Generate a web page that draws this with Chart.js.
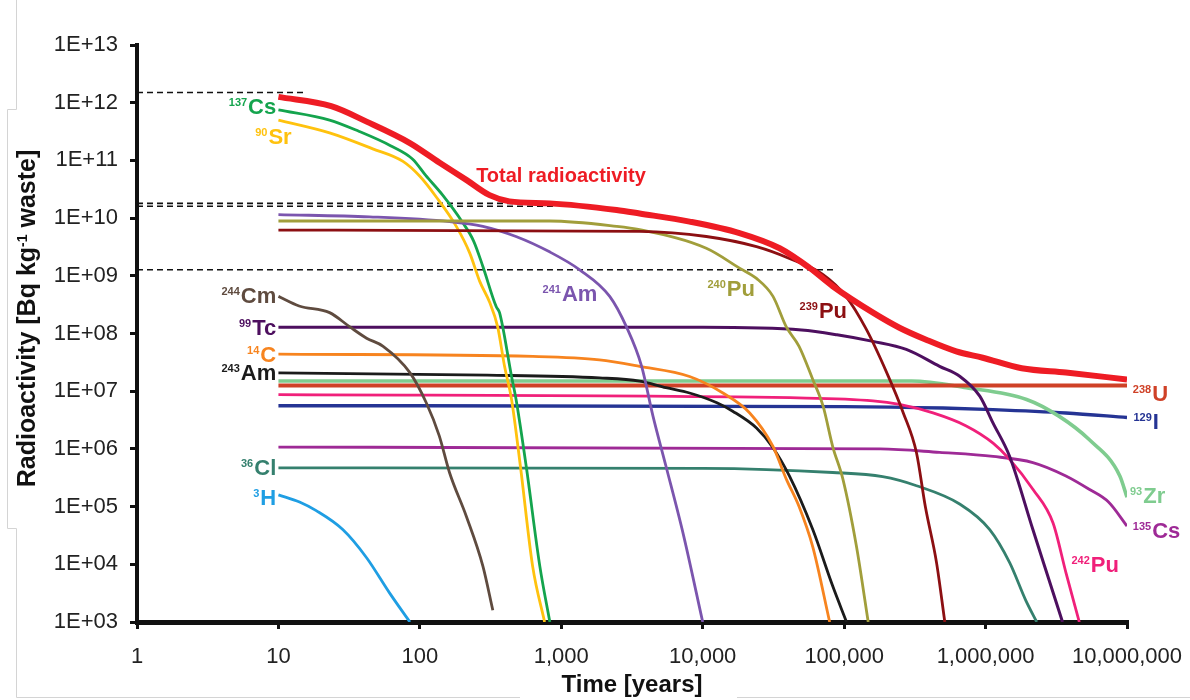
<!DOCTYPE html>
<html>
<head>
<meta charset="utf-8">
<script src="https://cdn.jsdelivr.net/npm/chart.js@4.4.0/dist/chart.umd.min.js"></script>
<style>
    html, body { margin: 0; padding: 0; background: #fff; }
    #wrap { width: 1190px; height: 700px; }
</style>
</head>
<body>
<div id="wrap"><canvas id="chart" width="1190" height="700"></canvas></div>
<script>

var FONT = '"Liberation Sans", Arial, sans-serif';

var xTicks = [1, 10, 100, 1000, 10000, 100000, 1000000, 10000000];
var yTicks = [1e3, 1e4, 1e5, 1e6, 1e7, 1e8, 1e9, 1e10, 1e11, 1e12, 1e13];

// [time in years, activity in Bq/kg]
var totalActivity = [[10, 1.26e12], [23.6, 8.7e11], [42, 4.7e11], [85, 2e11], [138, 9.1e10], [213, 4.6e10], [311, 2.5e10], [430, 1.95e10], [830, 1.8e10], [2460, 1.38e10], [3580, 1.2e10], [8070, 8.7e9], [18200, 5.5e9], [35000, 3e9], [57000, 1.37e9], [83000, 6.6e8], [160000, 2.3e8], [246000, 1.26e8], [380000, 7.8e7], [620000, 4.9e7], [955000, 3.8e7], [1.8e6, 2.5e7], [3.7e6, 2.1e7], [1e7, 1.6e7]];
var cs137 = [[10, 7.5e11], [23, 5e11], [37, 3.2e11], [62, 1.8e11], [89, 1.05e11], [110, 5.5e10], [145, 2.5e10], [200, 8.5e9], [240, 4e9], [279, 1.45e9], [347, 2.9e8], [366, 2.3e8], [445, 1.8e7], [479, 7.2e6], [565, 5e5], [705, 9.3e3], [830, 1e3]];
var sr90 = [[10, 5e11], [23, 3e11], [46, 1.6e11], [76, 9.6e10], [100, 5.3e10], [131, 2.3e10], [181, 7.2e9], [225, 2.5e9], [265, 8e8], [311, 3.5e8], [355, 1.3e8], [397, 2.7e7], [445, 7.2e6], [514, 5e5], [627, 9.3e3], [762, 1e3]];
var cm244 = [[10, 4.4e8], [14, 3e8], [23, 2.3e8], [32, 1.3e8], [42, 8.3e7], [55, 6e7], [85, 2.1e7], [111, 6.3e6], [137, 1.7e6], [162, 3.9e5], [213, 6.8e4], [279, 9.3e3], [328, 1.6e3]];
var tc99 = [[10, 1.28e8], [10000, 1.28e8], [50000, 1.15e8], [89000, 9.5e7], [160000, 7.3e7], [275000, 5.3e7], [473000, 2.7e7], [660000, 1.8e7], [910000, 8.2e6], [1.13e6, 2.8e6], [1.48e6, 7.4e5], [2.16e6, 4e4], [2.8e6, 5.5e3], [3.5e6, 1e3]];
var c14 = [[10, 4.4e7], [630, 4e7], [1860, 3.5e7], [3580, 2.7e7], [8070, 1.8e7], [13900, 9.3e6], [21500, 4.2e6], [31400, 1.1e6], [39000, 3e5], [48000, 1e5], [60000, 2e4], [79000, 1e3]];
var am243 = [[10, 2.07e7], [300, 1.9e7], [1860, 1.7e7], [3580, 1.5e7], [5500, 1.15e7], [8070, 9.3e6], [12600, 6.3e6], [16300, 4.5e6], [24000, 2.3e6], [31400, 1.05e6], [41000, 3.4e5], [60000, 4e4], [83000, 4.2e3], [104000, 1e3]];
var am241 = [[10, 1.15e10], [44, 1.05e10], [162, 8.7e9], [279, 7.2e9], [478, 4.8e9], [826, 2.6e9], [1350, 1.27e9], [2200, 4.4e8], [2890, 1.3e8], [3700, 2.7e7], [4450, 3.7e6], [5500, 5e5], [7250, 3.5e4], [10000, 1e3]];
var pu240 = [[10, 8.9e9], [830, 8.9e9], [2460, 7.2e9], [3580, 6.3e9], [10600, 3e9], [18200, 1.36e9], [24000, 9e8], [31400, 4.4e8], [39000, 1.3e8], [48000, 6e7], [60000, 1.6e7], [71000, 5.5e6], [83000, 1.1e6], [98000, 3e5], [122000, 2.1e4], [148000, 1e3]];
var pu239 = [[10, 6.2e9], [3580, 5.9e9], [10600, 4.8e9], [24000, 3.2e9], [41000, 2e9], [71000, 1.05e9], [103000, 4.4e8], [143000, 1.2e8], [200000, 2.1e7], [262000, 4.2e6], [325000, 8.5e5], [375000, 1e5], [450000, 1.07e4], [515000, 1e3]];
var u238 = [[10, 1.25e7], [1e7, 1.25e7]];
var zr93 = [[10, 1.5e7], [300000, 1.5e7], [730000, 1.15e7], [1.95e6, 7.2e6], [3.3e6, 3.7e6], [5.4e6, 1.45e6], [8.9e6, 3.4e5], [1e7, 1.45e5]];
var pu242 = [[10, 8.7e6], [54000, 7.6e6], [160000, 6.8e6], [246000, 5.9e6], [425000, 4.2e6], [730000, 2.5e6], [1.13e6, 1.26e6], [1.48e6, 6.6e5], [2.16e6, 2e5], [3e6, 5.2e4], [3.7e6, 7.2e3], [4.6e6, 1e3]];
var i129 = [[10, 5.6e6], [100000, 5.4e6], [500000, 5.1e6], [1.13e6, 4.8e6], [3.7e6, 4.2e6], [1e7, 3.5e6]];
var cs135 = [[10, 1.07e6], [180000, 1e6], [473000, 8.7e5], [1.13e6, 7.4e5], [2.16e6, 5.8e5], [3.7e6, 3.4e5], [5.4e6, 2e5], [7.4e6, 1.2e5], [1e7, 4.6e4]];
var cl36 = [[10, 4.7e5], [10000, 4.6e5], [83000, 3.9e5], [187000, 3.3e5], [325000, 2.3e5], [660000, 1.1e5], [1.07e6, 4e4], [1.48e6, 1.07e4], [1.92e6, 2.4e3], [2.3e6, 1e3]];
var h3 = [[10, 1.6e5], [14.1, 1.2e5], [18.5, 8.5e4], [28.5, 4e4], [42, 1.3e4], [61, 3.2e3], [85, 1e3]];

// dashed reference levels
var refHigh = [[1, 1.5e12], [15.3, 1.5e12]];
var refMidA = [[1, 1.8e10], [890, 1.8e10]];
var refMidB = [[1, 1.6e10], [890, 1.6e10]];
var refLow = [[1, 1.27e9], [85000, 1.27e9]];

var series = [
    { data: totalActivity, color: '#ee1c24', width: 6 },
    { data: pu239, color: '#8c0f12', width: 2.8 },
    { data: pu240, color: '#a19e3b', width: 2.8 },
    { data: am241, color: '#7b55ae', width: 2.8 },
    { data: cs137, color: '#14a44d', width: 2.8 },
    { data: sr90, color: '#ffc20e', width: 2.8 },
    { data: cm244, color: '#5f4b3f', width: 2.8 },
    { data: tc99, color: '#4d0f5f', width: 3 },
    { data: c14, color: '#f7841f', width: 2.8 },
    { data: am243, color: '#1b1b1b', width: 2.8 },
    { data: u238, color: '#cf4127', width: 4 },
    { data: zr93, color: '#7fcc8f', width: 3.6 },
    { data: pu242, color: '#f0207a', width: 2.8 },
    { data: i129, color: '#253494', width: 3.4 },
    { data: cs135, color: '#9e2a96', width: 2.8 },
    { data: cl36, color: '#35806e', width: 2.8 },
    { data: h3, color: '#1f9ee3', width: 2.8 }
];

var refLines = [refHigh, refMidA, refMidB, refLow];

// label anchors in data units: 'end' = text ends there, 'start' = text starts there
var isotopeLabels = [
    { sup: '137', sym: 'Cs', color: '#14a44d', side: 'end', at: [9.65, 8.6e11] },
    { sup: '90', sym: 'Sr', color: '#ffc20e', side: 'end', at: [12.4, 2.7e11] },
    { sup: '244', sym: 'Cm', color: '#5f4b3f', side: 'end', at: [9.65, 4.7e8] },
    { sup: '99', sym: 'Tc', color: '#4d0f5f', side: 'end', at: [9.65, 1.29e8] },
    { sup: '14', sym: 'C', color: '#f7841f', side: 'end', at: [9.65, 4.5e7] },
    { sup: '243', sym: 'Am', color: '#1b1b1b', side: 'end', at: [9.65, 2.14e7] },
    { sup: '36', sym: 'Cl', color: '#35806e', side: 'end', at: [9.65, 4.9e5] },
    { sup: '3', sym: 'H', color: '#1f9ee3', side: 'end', at: [9.65, 1.48e5] },
    { sup: '241', sym: 'Am', color: '#7b55ae', side: 'start', at: [737, 5e8] },
    { sup: '240', sym: 'Pu', color: '#a19e3b', side: 'start', at: [10800, 6.2e8] },
    { sup: '239', sym: 'Pu', color: '#8c0f12', side: 'start', at: [48400, 2.6e8] },
    { sup: '238', sym: 'U', color: '#cf4127', side: 'start', at: [1.1e7, 9.3e6] },
    { sup: '129', sym: 'I', color: '#253494', side: 'start', at: [1.11e7, 3e6] },
    { sup: '93', sym: 'Zr', color: '#7fcc8f', side: 'start', at: [1.05e7, 1.6e5] },
    { sup: '135', sym: 'Cs', color: '#9e2a96', side: 'start', at: [1.1e7, 4e4] },
    { sup: '242', sym: 'Pu', color: '#f0207a', side: 'start', at: [4.05e6, 1e4] }
];

var totalLabel = { text: 'Total radioactivity', color: '#ee1c24', at: [250, 5.6e10] };

function toPoints(pairs) {
    return pairs.map(function(p) {
        return { x: p[0], y: p[1] };
    });
}

var datasets = series.map(function(s) {
    return {
        data: toPoints(s.data),
        borderColor: s.color,
        borderWidth: s.width,
        fill: false
    };
});

refLines.forEach(function(r) {
    datasets.push({
        data: toPoints(r),
        borderColor: '#111',
        borderWidth: 1.6,
        borderDash: [6, 4],
        cubicInterpolationMode: 'default',
        tension: 0,
        fill: false
    });
});

var labelPlugin = {
    id: 'isotopeLabels',
    afterDatasetsDraw: function(chart) {
        var ctx = chart.ctx;
        var xs = chart.scales.x;
        var ys = chart.scales.y;
        ctx.save();
        ctx.textAlign = 'left';
        ctx.textBaseline = 'alphabetic';

        isotopeLabels.forEach(function(l) {
            var px = xs.getPixelForValue(l.at[0]);
            var py = ys.getPixelForValue(l.at[1]);
            ctx.font = 'bold 22px ' + FONT;
            var wSym = ctx.measureText(l.sym).width;
            ctx.font = 'bold 11px ' + FONT;
            var wSup = ctx.measureText(l.sup).width;
            var x0 = l.side === 'end' ? px - wSym - wSup - 1 : px;
            ctx.fillStyle = l.color;
            ctx.fillText(l.sup, x0, py);
            ctx.font = 'bold 22px ' + FONT;
            ctx.fillText(l.sym, x0 + wSup + 1, py + 8);
        });

        ctx.font = 'bold 20px ' + FONT;
        ctx.fillStyle = totalLabel.color;
        ctx.fillText(totalLabel.text, xs.getPixelForValue(totalLabel.at[0]), ys.getPixelForValue(totalLabel.at[1]) + 7);

        // y axis title with superscript
        var midY = (ys.getPixelForValue(1e13) + ys.getPixelForValue(1e3)) / 2 - 15;
        var partA = 'Radioactivity [Bq kg';
        var partSup = '-1';
        var partB = ' waste]';
        ctx.translate(26, midY);
        ctx.rotate(-Math.PI / 2);
        ctx.fillStyle = '#111';
        ctx.font = 'bold 25px ' + FONT;
        var wA = ctx.measureText(partA).width;
        var wB = ctx.measureText(partB).width;
        ctx.font = 'bold 14px ' + FONT;
        var wS = ctx.measureText(partSup).width;
        var u = -(wA + wS + wB) / 2;
        ctx.font = 'bold 25px ' + FONT;
        ctx.fillText(partA, u, 9);
        ctx.font = 'bold 14px ' + FONT;
        ctx.fillText(partSup, u + wA, 1);
        ctx.font = 'bold 25px ' + FONT;
        ctx.fillText(partB, u + wA + wS, 9);
        ctx.restore();

        // faint frame left over from the pasted figure
        ctx.save();
        ctx.strokeStyle = '#d4d4d4';
        ctx.lineWidth = 1;
        ctx.beginPath();
        ctx.moveTo(16.5, 0); ctx.lineTo(16.5, 109.5); ctx.lineTo(7.5, 109.5);
        ctx.lineTo(7.5, 528.5); ctx.lineTo(16.5, 528.5); ctx.lineTo(16.5, 697.5);
        ctx.lineTo(520, 697.5);
        ctx.moveTo(737, 697.5); ctx.lineTo(1190, 697.5);
        ctx.stroke();
        ctx.restore();
    }
};

new Chart(document.getElementById('chart'), {
    type: 'line',
    data: { datasets: datasets },
    options: {
        responsive: false,
        animation: false,
        devicePixelRatio: 1,
        layout: {
            padding: { left: 0, top: 45, right: 63, bottom: 0 }
        },
        plugins: {
            legend: { display: false },
            tooltip: { enabled: false }
        },
        elements: {
            point: { radius: 0 },
            line: { cubicInterpolationMode: 'monotone' }
        },
        scales: {
            x: {
                type: 'logarithmic',
                min: 1,
                max: 1e7,
                afterBuildTicks: function(scale) {
                    scale.ticks = xTicks.map(function(v) { return { value: v }; });
                },
                afterFit: function(scale) {
                    scale.height = 78;
                    scale.paddingLeft = 0;
                    scale.paddingRight = 0;
                },
                ticks: {
                    autoSkip: false,
                    maxRotation: 0,
                    padding: 15,
                    color: '#222',
                    font: { size: 22, family: FONT },
                    callback: function(value) {
                        return Number(value).toLocaleString('en-US');
                    }
                },
                grid: {
                    drawOnChartArea: false,
                    drawTicks: true,
                    tickLength: 7,
                    lineWidth: 3,
                    color: '#111'
                },
                border: { display: true, width: 5, color: '#111' },
                title: {
                    display: true,
                    text: 'Time [years]',
                    color: '#111',
                    font: { size: 24, weight: 'bold', family: FONT },
                    padding: { top: 0, bottom: 0 }
                }
            },
            y: {
                type: 'logarithmic',
                min: 1e3,
                max: 1e13,
                afterBuildTicks: function(scale) {
                    scale.ticks = yTicks.map(function(v) { return { value: v }; });
                },
                afterFit: function(scale) {
                    scale.width = 137;
                    scale.paddingTop = 0;
                    scale.paddingBottom = 0;
                },
                ticks: {
                    padding: 12,
                    color: '#222',
                    font: { size: 22, family: FONT },
                    callback: function(value) {
                        var exp = Math.round(Math.log10(value));
                        return '1E+' + (exp < 10 ? '0' + exp : exp);
                    }
                },
                grid: {
                    drawOnChartArea: false,
                    drawTicks: true,
                    tickLength: 7,
                    lineWidth: 3,
                    color: '#111'
                },
                border: { display: true, width: 4, color: '#111' }
            }
        }
    },
    plugins: [labelPlugin]
});

</script>
</body>
</html>
